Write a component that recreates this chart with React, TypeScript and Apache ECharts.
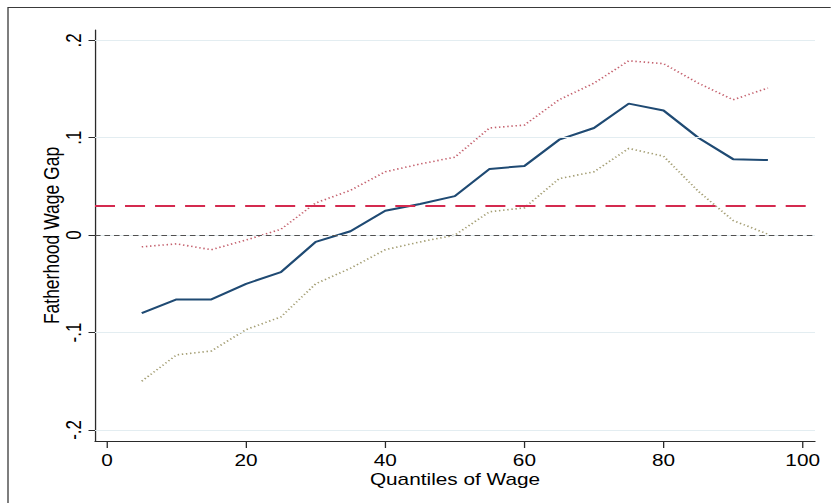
import React, { useEffect, useRef } from "react";
import * as echarts from "echarts";

// Wage quantiles at which the fatherhood gap is estimated
const quantiles = [5, 10, 15, 20, 25, 30, 35, 40, 45, 50, 55, 60, 65, 70, 75, 80, 85, 90, 95];
// Point estimates of the fatherhood wage gap
const gapEstimate = [
  -0.080, -0.066, -0.066, -0.050, -0.038, -0.007, 0.004, 0.025, 0.032, 0.040,
  0.068, 0.071, 0.098, 0.110, 0.135, 0.128, 0.100, 0.078, 0.077,
];
// Upper and lower confidence bounds
const upperBound = [
  -0.012, -0.009, -0.015, -0.005, 0.006, 0.033, 0.046, 0.065, 0.073, 0.080,
  0.110, 0.113, 0.139, 0.156, 0.179, 0.176, 0.156, 0.139, 0.151,
];
const lowerBound = [
  -0.150, -0.123, -0.119, -0.097, -0.084, -0.050, -0.034, -0.015, -0.007, 0.000,
  0.024, 0.028, 0.058, 0.065, 0.089, 0.081, 0.045, 0.015, 0.001,
];
// Mean (OLS) gap drawn as a reference line
const meanGap = 0.029;

const xTicks = [0, 20, 40, 60, 80, 100];
const yTicks = [-0.2, -0.1, 0, 0.1, 0.2];

// The graph is laid out narrower and stretched horizontally.
const STRETCH = 1.3;
const FULL_W = 831;
const H = 503;
const W = FULL_W / STRETCH;

const FONT = "'Liberation Sans', Arial, Helvetica, sans-serif";

const pairs = (ys: number[]) => quantiles.map((q, i) => [q, ys[i]]);

const fmtY = (v: number) => {
  if (Math.abs(v) < 1e-9) return "0";
  const s = String(Math.round(Math.abs(v) * 10) / 10).replace(/^0/, "");
  return (v < 0 ? "-" : "") + s;
};

export default function App() {
  const ref = useRef<HTMLDivElement>(null);

  useEffect(() => {
    if (!ref.current) return;
    const chart = echarts.init(ref.current, null, { renderer: "svg", width: W, height: H });

    const option: any = {
      animation: false,
      backgroundColor: "#ffffff",
      grid: {
        left: 95 / STRETCH,
        right: W - 815 / STRETCH,
        top: 30,
        bottom: H - 441,
        containLabel: false,
        outerBoundsMode: "none",
      },
      graphic: [
        {
          type: "rect",
          silent: true,
          z: -10,
          shape: { x: 8 / STRETCH, y: 7.5, width: 1000, height: 1000 },
          style: { fill: "none", stroke: "#3a3a3a", lineWidth: 1 },
        },
      ],
      xAxis: {
        type: "value",
        min: -1.72,
        max: 101.77,
        name: "Quantiles of Wage",
        nameLocation: "middle",
        nameGap: 30,
        nameMoveOverlap: false,
        nameTextStyle: { fontSize: 16, color: "#000", fontFamily: FONT },
        axisLine: { show: true, onZero: false, lineStyle: { color: "#2a2a2a", width: 1 } },
        axisTick: {
          show: true,
          length: 7,
          customValues: xTicks,
          lineStyle: { color: "#2a2a2a", width: 1 },
        },
        axisLabel: {
          customValues: xTicks,
          margin: 11,
          fontSize: 16,
          color: "#000",
          fontFamily: FONT,
        },
        splitLine: { show: false },
      },
      yAxis: {
        type: "value",
        min: -0.2114,
        max: 0.2106,
        name: "Fatherhood Wage Gap",
        nameLocation: "middle",
        nameRotate: 90,
        nameGap: 25,
        nameMoveOverlap: false,
        nameTextStyle: { fontSize: 17.5, color: "#000", fontFamily: FONT },
        axisLine: { show: true, onZero: false, lineStyle: { color: "#2a2a2a", width: 1 } },
        axisTick: {
          show: true,
          length: 5,
          customValues: yTicks,
          lineStyle: { color: "#2a2a2a", width: 1 },
        },
        axisLabel: {
          customValues: yTicks,
          rotate: 90,
          margin: 8,
          fontSize: 17,
          color: "#000",
          fontFamily: FONT,
          formatter: (v: number) => fmtY(v),
        },
        splitLine: { show: false },
      },
      series: [
        {
          // carrier for the grid and reference lines
          type: "line",
          data: [],
          silent: true,
          z: 1,
          markLine: {
            silent: true,
            symbol: "none",
            label: { show: false },
            animation: false,
            data: [
              ...yTicks.map((v) => ({
                yAxis: v,
                lineStyle: { color: "#e3edf1", width: 1, type: "solid" },
              })),
              {
                yAxis: 0,
                lineStyle: { color: "#505050", width: 1, type: [4.3, 3] },
              },
              {
                yAxis: meanGap,
                lineStyle: { color: "#d42a4f", width: 2, type: [15.4, 7.7] },
              },
            ],
          },
        },
        {
          name: "upper",
          type: "line",
          data: pairs(upperBound),
          showSymbol: false,
          silent: true,
          z: 3,
          lineStyle: { color: "#c4606d", width: 1.6, type: [1.1, 2.1] },
        },
        {
          name: "lower",
          type: "line",
          data: pairs(lowerBound),
          showSymbol: false,
          silent: true,
          z: 3,
          lineStyle: { color: "#a39d72", width: 1.6, type: [1.1, 2.1] },
        },
        {
          name: "gap",
          type: "line",
          data: pairs(gapEstimate),
          showSymbol: false,
          silent: true,
          z: 4,
          lineStyle: { color: "#1f4a73", width: 2, type: "solid" },
        },
      ],
    };

    chart.setOption(option);
    return () => chart.dispose();
  }, []);

  return (
    <div
      style={{
        position: "fixed",
        left: 0,
        top: 0,
        width: FULL_W,
        height: H,
        overflow: "hidden",
        background: "#fff",
      }}
    >
      <div
        ref={ref}
        style={{
          width: W,
          height: H,
          transform: `scaleX(${STRETCH})`,
          transformOrigin: "0 0",
        }}
      />
    </div>
  );
}
